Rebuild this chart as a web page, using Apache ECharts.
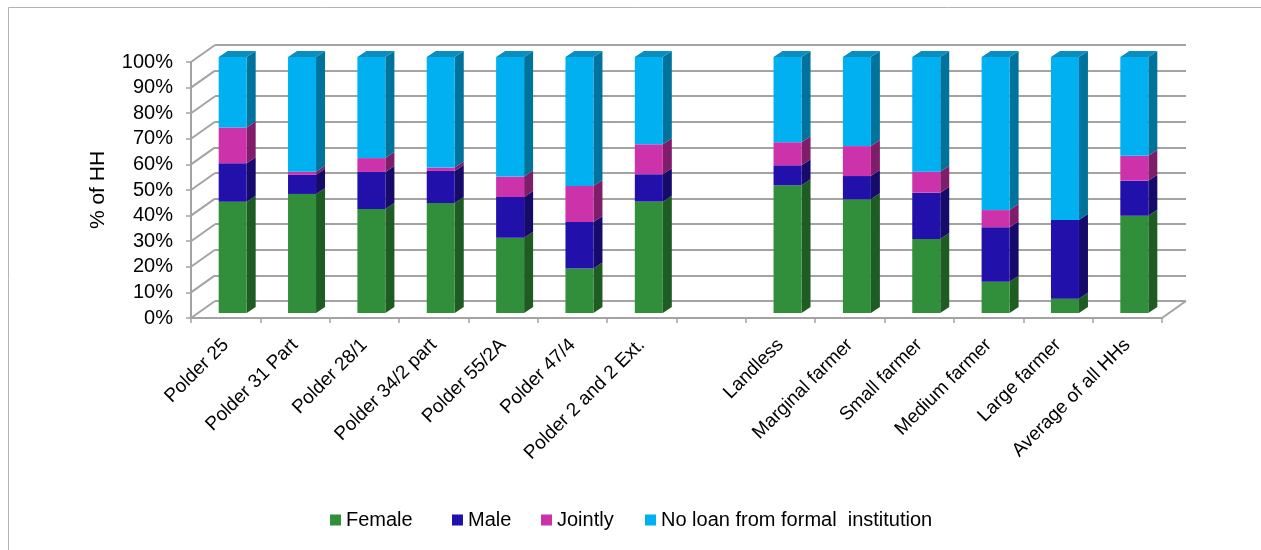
<!DOCTYPE html>
<html>
<head>
<meta charset="utf-8">
<title>Formal loan access by household group</title>
<script src="https://cdn.jsdelivr.net/npm/echarts@6/dist/echarts.min.js"></script>
<style>
  html, body { margin: 0; padding: 0; background: #ffffff; }
  #chart { width: 1261px; height: 550px; }
</style>
</head>
<body>
<div id="chart"></div>
<script>
// Household groups (an empty slot separates polders from farm-size classes)
var categories = [
  'Polder 25', 'Polder 31 Part', 'Polder 28/1', 'Polder 34/2 part', 'Polder 55/2A',
  'Polder 47/4', 'Polder 2 and 2 Ext.', '',
  'Landless', 'Marginal farmer', 'Small farmer', 'Medium farmer', 'Large farmer', 'Average of all HHs'
];

// Share of households (%) by who took the formal loan
var female  = [43.5, 46.5, 40.6, 43.0, 29.4, 17.4, 43.5, null, 49.9, 44.4, 28.9, 12.2, 5.6, 38.0];
var male    = [15.0, 7.5, 14.5, 12.5, 15.9, 18.1, 10.7, null, 7.8, 9.1, 18.1, 21.3, 30.7, 13.7];
var jointly = [14.0, 1.2, 5.4, 1.3, 8.0, 14.1, 11.7, null, 9.0, 11.7, 8.2, 6.7, 0.0, 9.7];
var noLoan  = [27.5, 44.8, 39.5, 43.2, 46.7, 50.4, 34.1, null, 33.3, 34.8, 44.8, 59.8, 63.7, 38.6];

var seriesNames = ['Female', 'Male', 'Jointly', 'No loan from formal  institution'];
var yTicks = [0, 10, 20, 30, 40, 50, 60, 70, 80, 90, 100];

// Drawing constants for the pseudo-3D look
var WALL = [24, -17];      // back wall offset from the front plane
var FACE = [7, -5];        // bar front face offset from the front plane
var DEPTH = [9, -6];       // bar depth
var BAR_W = 28;
var GRID_COLOR = '#a3a3a3';
var FONT = '"Liberation Sans", Arial, sans-serif';

var faceColors = ['#318f3b', '#2111aa', '#cc33aa', '#00b0f0'];
var sideColors = ['#1e5c24', '#160a6b', '#7f1d6b', '#00739c'];
var topColor = '#0a8dbf';

var layers = [female, male, jointly, noLoan];

function buildData(k) {
  var out = [];
  for (var i = 0; i < categories.length; i++) {
    if (layers[k][i] == null) continue;
    var base = 0;
    for (var j = 0; j < k; j++) base += layers[j][i];
    out.push([i, base, base + layers[k][i]]);
  }
  return out;
}

function barRenderer(k, withTop) {
  return function (params, api) {
    var c = api.value(0), v0 = api.value(1), v1 = api.value(2);
    if (v1 - v0 <= 0) return null;
    var pb = api.coord([c, v0]);
    var pt = api.coord([c, v1]);
    var x = pb[0] - BAR_W / 2 + FACE[0];
    var yb = pb[1] + FACE[1];
    var yt = pt[1] + FACE[1];
    var children = [
      {
        type: 'polygon',
        shape: { points: [[x + BAR_W, yb], [x + BAR_W + DEPTH[0], yb + DEPTH[1]],
                          [x + BAR_W + DEPTH[0], yt + DEPTH[1]], [x + BAR_W, yt]] },
        style: { fill: sideColors[k] }
      },
      {
        type: 'rect',
        shape: { x: x, y: yt, width: BAR_W, height: yb - yt },
        style: { fill: faceColors[k] }
      }
    ];
    if (withTop) {
      children.push({
        type: 'polygon',
        shape: { points: [[x, yt], [x + DEPTH[0], yt + DEPTH[1]],
                          [x + BAR_W + DEPTH[0], yt + DEPTH[1]], [x + BAR_W, yt]] },
        style: { fill: topColor }
      });
    }
    return { type: 'group', children: children };
  };
}

// Side wall and floor edges joining the front plane to the back wall
function frameRenderer(params, api) {
  var cs = params.coordSys;
  var lines = [];
  for (var i = 0; i < yTicks.length; i++) {
    var y = api.coord([0, yTicks[i]])[1];
    lines.push({
      type: 'line',
      shape: { x1: cs.x, y1: y, x2: cs.x + WALL[0], y2: y + WALL[1] },
      style: { stroke: GRID_COLOR, lineWidth: 2 }
    });
  }
  var y0 = api.coord([0, 0])[1];
  lines.push({
    type: 'line',
    shape: { x1: cs.x + cs.width, y1: y0, x2: cs.x + cs.width + WALL[0], y2: y0 + WALL[1] },
    style: { stroke: GRID_COLOR, lineWidth: 2 }
  });
  return { type: 'group', children: lines };
}

var series = [{
  type: 'custom',
  name: 'frame',
  xAxisIndex: 0, yAxisIndex: 0,
  data: [[0, 0]],
  renderItem: frameRenderer,
  silent: true,
  clip: false,
  z: 1
}];
for (var k = 0; k < 4; k++) {
  series.push({
    type: 'custom',
    name: seriesNames[k],
    xAxisIndex: 0, yAxisIndex: 0,
    data: buildData(k),
    renderItem: barRenderer(k, k === 3),
    itemStyle: { color: faceColors[k] },
    encode: { x: 0, y: [1, 2] },
    clip: false,
    z: 3
  });
}

var legendLefts = [330, 452, 541, 645];
var legends = seriesNames.map(function (n, i) {
  return {
    data: [n],
    left: legendLefts[i],
    top: 510,
    padding: 0,
    icon: 'rect',
    itemWidth: 11,
    itemHeight: 11,
    selectedMode: false,
    textStyle: { fontFamily: FONT, fontSize: 20, color: '#000' }
  };
});

var chart = echarts.init(document.getElementById('chart'), null, { renderer: 'canvas' });
chart.setOption({
  animation: false,
  backgroundColor: '#ffffff',
  textStyle: { fontFamily: FONT },
  graphic: [{
    type: 'rect',
    shape: { x: 8.5, y: 7.5, width: 1400, height: 700 },
    style: { fill: 'none', stroke: '#b3b3b3', lineWidth: 1 },
    silent: true
  }],
  legend: legends,
  grid: [
    { left: 191, right: 99, top: 62, bottom: 232 },
    { left: 191 + WALL[0], right: 99 - WALL[0], top: 62 + WALL[1], bottom: 232 - WALL[1] }
  ],
  xAxis: [{
    type: 'category',
    gridIndex: 0,
    data: categories,
    axisLine: { lineStyle: { color: GRID_COLOR, width: 2 } },
    axisTick: { show: true, interval: 0, length: 5, lineStyle: { color: GRID_COLOR, width: 1.5 } },
    axisLabel: { interval: 0, rotate: 45, margin: 24, fontSize: 19, color: '#000', fontFamily: FONT },
    splitLine: { show: false }
  }, {
    type: 'category',
    gridIndex: 1,
    data: categories,
    show: false
  }],
  yAxis: [{
    type: 'value',
    gridIndex: 0,
    min: 0, max: 100, interval: 10,
    name: '% of HH',
    nameLocation: 'middle',
    nameGap: 82,
    nameTextStyle: { fontSize: 21, color: '#000', fontFamily: FONT },
    axisLine: { show: true, lineStyle: { color: GRID_COLOR, width: 2 } },
    axisTick: { show: true, length: 5, lineStyle: { color: GRID_COLOR, width: 1.5 } },
    axisLabel: { formatter: '{value}%', margin: 18, fontSize: 20, color: '#000', fontFamily: FONT },
    splitLine: { show: false }
  }, {
    type: 'value',
    gridIndex: 1,
    min: 0, max: 100, interval: 10,
    axisLine: { show: false },
    axisTick: { show: false },
    axisLabel: { show: false },
    splitLine: { show: true, lineStyle: { color: GRID_COLOR, width: 2 } }
  }],
  series: series
});
</script>
</body>
</html>
